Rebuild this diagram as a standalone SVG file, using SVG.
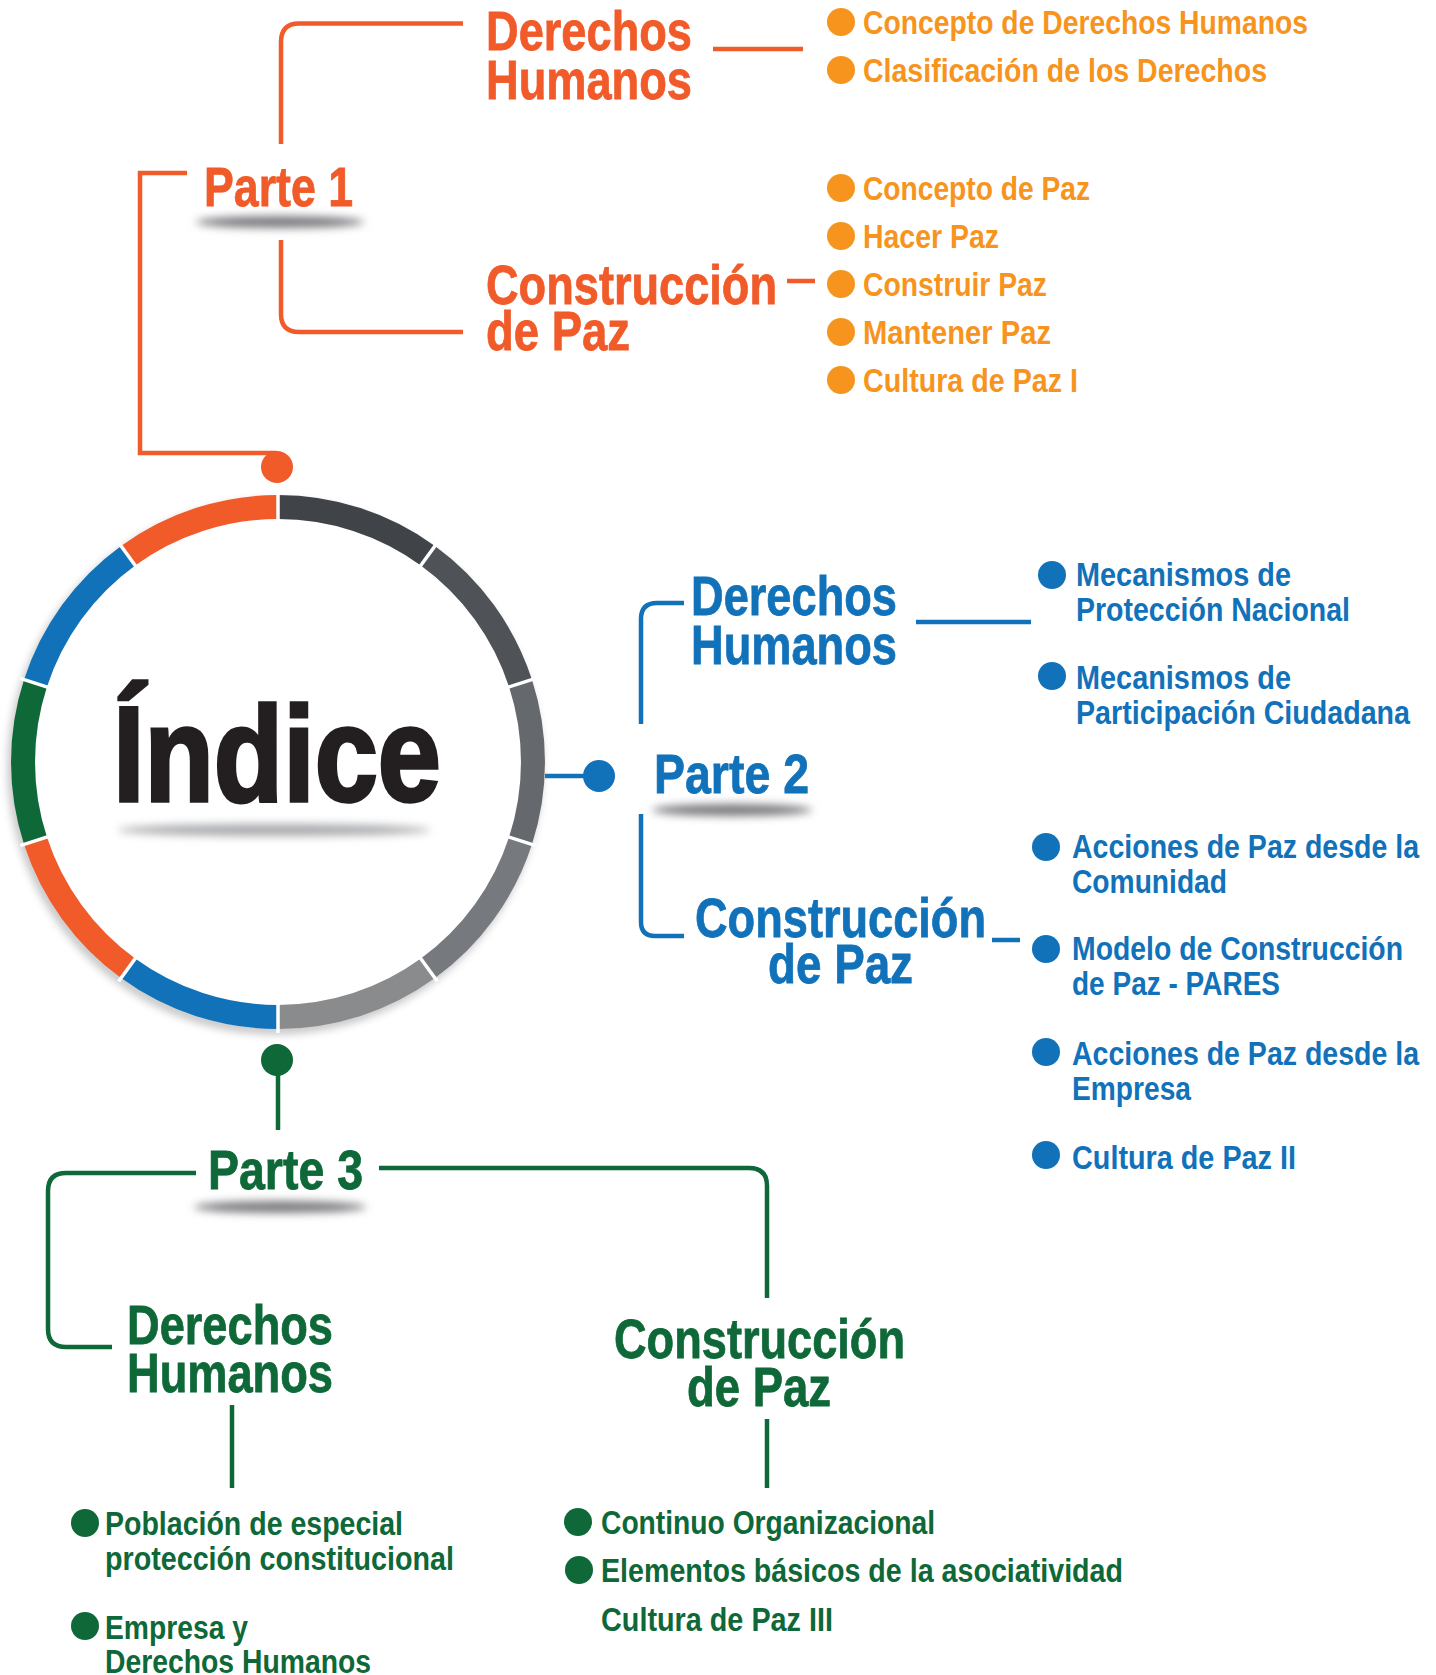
<svg xmlns="http://www.w3.org/2000/svg" width="1436" height="1675" viewBox="0 0 1436 1675">
<defs>
<style>
text{font-family:'Liberation Sans Narrow','Liberation Sans',Arial,sans-serif;font-weight:bold;}
.h{font-size:56px;stroke-width:0.8;}
.b{font-size:34px;}
.o{fill:#F15A29;stroke:#F15A29;}
.ob{fill:#F7941D;}
.bl{fill:#1172BA;}
.h.bl{stroke:#1172BA;}
.g{fill:#0E6838;}
.h.g{stroke:#0E6838;}
.lo{stroke:#F15A29;stroke-width:4.5;fill:none;}
.lb{stroke:#1172BA;stroke-width:4.5;fill:none;}
.lg{stroke:#0E6838;stroke-width:4.5;fill:none;}
.seg{fill:none;stroke-width:24;}
.sep{stroke:#fff;stroke-width:3.5;}
.sh{fill:#7a797e;filter:url(#blur);}
</style>
<filter id="blur" x="-30%" y="-200%" width="160%" height="500%"><feGaussianBlur stdDeviation="4"/></filter>
<filter id="blur2" x="-20%" y="-20%" width="140%" height="140%"><feGaussianBlur stdDeviation="4"/></filter>
</defs>
<rect width="1436" height="1675" fill="#fff"/>

<g id="connectors">
<path class="lo" d="M281,144 V42 Q281,23.5 299,23.5 H463"/>
<path class="lo" d="M281,240 V314 Q281,332 299,332 H463"/>
<path class="lo" d="M187,173 H140 V453 H277"/>
<path class="lo" d="M713,49 H803"/>
<path class="lo" d="M787,281 H815"/>
<circle cx="277" cy="467" r="16" fill="#F15A29"/>
<path class="lb" d="M545,776 H600"/>
<circle cx="599" cy="776" r="16" fill="#1172BA"/>
<path class="lb" d="M641,724 V619 Q641,603 657,603 H684"/>
<path class="lb" d="M641,814 V922 Q641,936 655,936 H684"/>
<path class="lb" d="M916,622 H1031"/>
<path class="lb" d="M992,940 H1020"/>
<circle cx="277" cy="1060" r="16" fill="#0E6838"/>
<path class="lg" d="M278,1060 V1130"/>
<path class="lg" d="M196,1173 H66 Q48,1173 48,1191 V1329 Q48,1347 66,1347 H112"/>
<path class="lg" d="M379,1168 H749 Q767,1168 767,1186 V1298"/>
<path class="lg" d="M232,1405 V1488"/>
<path class="lg" d="M767,1419 V1488"/>
</g>

<g id="indice">
<circle cx="275" cy="767" r="262" fill="none" stroke="#8f8f92" stroke-width="10" opacity="0.55" filter="url(#blur2)"/>
<circle cx="278" cy="762" r="256" fill="#fff"/>
<path class="seg" stroke="#404448" d="M278,507 A255,255 0 0 1 427.9,555.7"/>
<path class="seg" stroke="#4F5257" d="M427.9,555.7 A255,255 0 0 1 520.5,683.2"/>
<path class="seg" stroke="#65686C" d="M520.5,683.2 A255,255 0 0 1 520.5,840.8"/>
<path class="seg" stroke="#76797D" d="M520.5,840.8 A255,255 0 0 1 427.9,968.3"/>
<path class="seg" stroke="#8A8B8D" d="M427.9,968.3 A255,255 0 0 1 278,1017"/>
<path class="seg" stroke="#1172BA" d="M278,1017 A255,255 0 0 1 128.1,968.3"/>
<path class="seg" stroke="#F15A29" d="M128.1,968.3 A255,255 0 0 1 35.5,840.8"/>
<path class="seg" stroke="#0E6838" d="M35.5,840.8 A255,255 0 0 1 35.5,683.2"/>
<path class="seg" stroke="#1172BA" d="M35.5,683.2 A255,255 0 0 1 128.1,555.7"/>
<path class="seg" stroke="#F15A29" d="M128.1,555.7 A255,255 0 0 1 278,507"/>
<g class="sep">
<line x1="278" y1="522" x2="278" y2="491"/>
<line x1="419.1" y1="567.8" x2="437.3" y2="542.8"/>
<line x1="506.3" y1="687.8" x2="535.7" y2="678.3"/>
<line x1="506.3" y1="836.2" x2="535.7" y2="845.7"/>
<line x1="419.1" y1="956.2" x2="437.3" y2="981.2"/>
<line x1="278" y1="1002" x2="278" y2="1033"/>
<line x1="136.9" y1="956.2" x2="118.7" y2="981.2"/>
<line x1="49.7" y1="836.2" x2="20.3" y2="845.7"/>
<line x1="49.7" y1="687.8" x2="20.3" y2="678.3"/>
<line x1="136.9" y1="567.8" x2="118.7" y2="542.8"/>
</g>
<ellipse cx="274" cy="830" rx="156" ry="6" fill="#a9aaad" filter="url(#blur)"/>
<text x="113" y="801" font-size="136" fill="#231F20" stroke="#231F20" stroke-width="3.5" textLength="328" lengthAdjust="spacingAndGlyphs" style="font-family:'Liberation Sans',Arial,sans-serif">Índice</text>
</g>

<g id="parte1">
<ellipse class="sh" cx="280" cy="222" rx="84" ry="6"/>
<text class="h o" x="204" y="206" textLength="149" lengthAdjust="spacingAndGlyphs">Parte 1</text>
</g>
<g id="p1-derechos">
<text class="h o" x="486" y="50" textLength="206" lengthAdjust="spacingAndGlyphs">Derechos</text>
<text class="h o" x="486" y="99" textLength="206" lengthAdjust="spacingAndGlyphs">Humanos</text>
</g>
<g id="p1-construccion">
<text class="h o" x="486" y="304" textLength="291" lengthAdjust="spacingAndGlyphs">Construcción</text>
<text class="h o" x="486" y="350" textLength="144" lengthAdjust="spacingAndGlyphs">de Paz</text>
</g>
<g id="p1-items" class="ob">
<circle cx="841" cy="22" r="14"/><text class="b ob" x="863" y="34" textLength="445" lengthAdjust="spacingAndGlyphs">Concepto de Derechos Humanos</text>
<circle cx="841" cy="70" r="14"/><text class="b ob" x="863" y="82" textLength="404" lengthAdjust="spacingAndGlyphs">Clasificación de los Derechos</text>
<circle cx="841" cy="188" r="14"/><text class="b ob" x="863" y="200" textLength="227" lengthAdjust="spacingAndGlyphs">Concepto de Paz</text>
<circle cx="841" cy="236" r="14"/><text class="b ob" x="863" y="248" textLength="136" lengthAdjust="spacingAndGlyphs">Hacer Paz</text>
<circle cx="841" cy="284" r="14"/><text class="b ob" x="863" y="296" textLength="184" lengthAdjust="spacingAndGlyphs">Construir Paz</text>
<circle cx="841" cy="332" r="14"/><text class="b ob" x="863" y="344" textLength="188" lengthAdjust="spacingAndGlyphs">Mantener Paz</text>
<circle cx="841" cy="380" r="14"/><text class="b ob" x="863" y="392" textLength="215" lengthAdjust="spacingAndGlyphs">Cultura de Paz I</text>
</g>

<g id="parte2">
<ellipse class="sh" cx="732" cy="810" rx="80" ry="6"/>
<text class="h bl" x="654" y="793" textLength="155" lengthAdjust="spacingAndGlyphs">Parte 2</text>
</g>
<g id="p2-derechos">
<text class="h bl" x="691" y="615" textLength="206" lengthAdjust="spacingAndGlyphs">Derechos</text>
<text class="h bl" x="691" y="664" textLength="206" lengthAdjust="spacingAndGlyphs">Humanos</text>
</g>
<g id="p2-construccion">
<text class="h bl" x="695" y="937" textLength="291" lengthAdjust="spacingAndGlyphs">Construcción</text>
<text class="h bl" x="768" y="983" textLength="145" lengthAdjust="spacingAndGlyphs">de Paz</text>
</g>
<g id="p2-items" class="bl">
<circle cx="1052" cy="575" r="14"/>
<text class="b bl" x="1076" y="586" textLength="215" lengthAdjust="spacingAndGlyphs">Mecanismos de</text>
<text class="b bl" x="1076" y="621" textLength="274" lengthAdjust="spacingAndGlyphs">Protección Nacional</text>
<circle cx="1052" cy="676" r="14"/>
<text class="b bl" x="1076" y="689" textLength="215" lengthAdjust="spacingAndGlyphs">Mecanismos de</text>
<text class="b bl" x="1076" y="724" textLength="334" lengthAdjust="spacingAndGlyphs">Participación Ciudadana</text>
<circle cx="1046" cy="847" r="14"/>
<text class="b bl" x="1072" y="858" textLength="347" lengthAdjust="spacingAndGlyphs">Acciones de Paz desde la</text>
<text class="b bl" x="1072" y="893" textLength="155" lengthAdjust="spacingAndGlyphs">Comunidad</text>
<circle cx="1046" cy="949" r="14"/>
<text class="b bl" x="1072" y="960" textLength="331" lengthAdjust="spacingAndGlyphs">Modelo de Construcción</text>
<text class="b bl" x="1072" y="995" textLength="208" lengthAdjust="spacingAndGlyphs">de Paz - PARES</text>
<circle cx="1046" cy="1052" r="14"/>
<text class="b bl" x="1072" y="1065" textLength="347" lengthAdjust="spacingAndGlyphs">Acciones de Paz desde la</text>
<text class="b bl" x="1072" y="1100" textLength="119" lengthAdjust="spacingAndGlyphs">Empresa</text>
<circle cx="1046" cy="1155" r="14"/>
<text class="b bl" x="1072" y="1169" textLength="224" lengthAdjust="spacingAndGlyphs">Cultura de Paz II</text>
</g>

<g id="parte3">
<ellipse class="sh" cx="280" cy="1207" rx="86" ry="6"/>
<text class="h g" x="208" y="1189" textLength="155" lengthAdjust="spacingAndGlyphs">Parte 3</text>
</g>
<g id="p3-derechos">
<text class="h g" x="127" y="1344" textLength="206" lengthAdjust="spacingAndGlyphs">Derechos</text>
<text class="h g" x="127" y="1392" textLength="206" lengthAdjust="spacingAndGlyphs">Humanos</text>
</g>
<g id="p3-construccion">
<text class="h g" x="614" y="1358" textLength="291" lengthAdjust="spacingAndGlyphs">Construcción</text>
<text class="h g" x="687" y="1406" textLength="144" lengthAdjust="spacingAndGlyphs">de Paz</text>
</g>
<g id="p3-items" class="g">
<circle cx="85" cy="1523" r="14"/>
<text class="b g" x="105" y="1535" textLength="298" lengthAdjust="spacingAndGlyphs">Población de especial</text>
<text class="b g" x="105" y="1570" textLength="349" lengthAdjust="spacingAndGlyphs">protección constitucional</text>
<circle cx="85" cy="1626" r="14"/>
<text class="b g" x="105" y="1639" textLength="143" lengthAdjust="spacingAndGlyphs">Empresa y</text>
<text class="b g" x="105" y="1673" textLength="266" lengthAdjust="spacingAndGlyphs">Derechos Humanos</text>
<circle cx="578" cy="1522" r="14"/>
<text class="b g" x="601" y="1534" textLength="334" lengthAdjust="spacingAndGlyphs">Continuo Organizacional</text>
<circle cx="579" cy="1570" r="14"/>
<text class="b g" x="601" y="1582" textLength="522" lengthAdjust="spacingAndGlyphs">Elementos básicos de la asociatividad</text>
<text class="b g" x="601" y="1631" textLength="232" lengthAdjust="spacingAndGlyphs">Cultura de Paz III</text>
</g>
</svg>
